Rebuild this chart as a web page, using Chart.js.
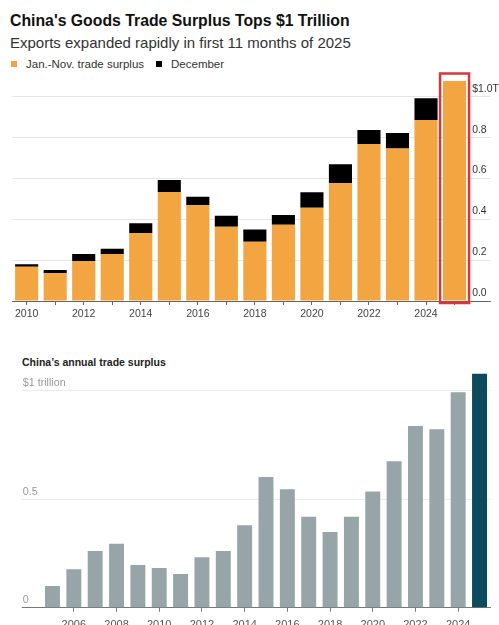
<!DOCTYPE html>
<html><head><meta charset="utf-8">
<script src="https://cdn.jsdelivr.net/npm/chart.js@4.4.1/dist/chart.umd.min.js"></script>
<style>
html,body{margin:0;padding:0;background:#fff;width:499px;height:625px;overflow:hidden;font-family:"Liberation Sans",Arial,sans-serif;}
#wrap{position:relative;width:499px;height:625px;overflow:hidden;}
.t{position:absolute;white-space:nowrap;}
#title{left:10px;top:11px;font-weight:bold;font-size:15.8px;line-height:19px;color:#111;}
#sub{left:10px;top:34px;font-size:15px;line-height:18px;color:#333;}
#leg{left:11px;top:56.7px;font-size:11.5px;line-height:14px;color:#333;}
#leg .sw{display:inline-block;width:6px;height:6px;vertical-align:1px;margin-right:9px;}
#title2{left:22px;top:356px;font-weight:bold;font-size:10.5px;line-height:13px;color:#222;}
#c1{position:absolute;left:0;top:0;}
#c2{position:absolute;left:0;top:340px;}
</style>
</head><body>
<div id="wrap">
  <div class="t" id="title">China's Goods Trade Surplus Tops $1 Trillion</div>
  <div class="t" id="sub">Exports expanded rapidly in first 11 months of 2025</div>
  <div class="t" id="leg"><span class="sw" style="background:#F2A541"></span>Jan.-Nov. trade surplus<span class="sw" style="background:#000;margin-left:12px"></span>December</div>
  <canvas id="c1" width="499" height="330"></canvas>
  <div class="t" id="title2">China’s annual trade surplus</div>
  <canvas id="c2" width="499" height="295"></canvas>
</div>
<script>
// ---- Top chart data ----
const years = ['2010','2011','2012','2013','2014','2015','2016','2017','2018','2019','2020','2021','2022','2023','2024','2025'];
const janNovSurplus = [0.168,0.136,0.196,0.230,0.332,0.534,0.469,0.364,0.291,0.374,0.457,0.577,0.770,0.748,0.887,1.078];
const decemberSurplus = [0.012,0.016,0.034,0.026,0.049,0.059,0.042,0.054,0.059,0.048,0.076,0.093,0.068,0.076,0.107,null];
const topTickValues = [0,0.2,0.4,0.6,0.8,1.0];
const topTickLabels = ['0.0','0.2','0.4','0.6','0.8','$1.0T'];
const highlightYear = '2025';

// ---- Bottom chart data ----
const annualYears = ['2005','2006','2007','2008','2009','2010','2011','2012','2013','2014','2015','2016','2017','2018','2019','2020','2021','2022','2023','2024','2025'];
const annualSurplus = [0.100,0.177,0.261,0.295,0.197,0.183,0.155,0.232,0.261,0.380,0.602,0.546,0.419,0.349,0.419,0.535,0.675,0.837,0.822,0.993,1.078];
const bottomTickValues = [0,0.5,1.0];
const bottomTickLabels = ['0','0.5','$1 trillion'];

const FONT = '"Liberation Sans", Arial, sans-serif';
const ORANGE = '#F2A541', BLACK = '#000000', RED = '#D8363C';
const GRAY = '#97A5A9', TEAL = '#0C4B5E';

const redBox = {
  id:'redBox',
  afterDatasetsDraw(chart){
    const xs = chart.scales.x, ca = chart.chartArea, ctx = chart.ctx;
    const cx = xs.getPixelForValue(years.indexOf(highlightYear));
    ctx.save();
    ctx.strokeStyle = RED; ctx.lineWidth = 2.5;
    ctx.strokeRect(cx - 14.5, ca.top + 1, 29, ca.bottom - ca.top + 1);
    ctx.restore();
  }
};

new Chart(document.getElementById('c1'), {
  type:'bar',
  data:{labels:years, datasets:[
    {label:'Jan.-Nov. trade surplus', data:janNovSurplus, backgroundColor:ORANGE, borderWidth:0, categoryPercentage:1, barPercentage:0.81},
    {label:'December', data:decemberSurplus, backgroundColor:BLACK, borderWidth:0, categoryPercentage:1, barPercentage:0.81}
  ]},
  options:{
    responsive:false, animation:false, devicePixelRatio:1,
    layout:{padding:{left:12.4,right:0,top:72.5,bottom:0}},
    plugins:{legend:{display:false}, tooltip:{enabled:false}},
    scales:{
      x:{stacked:true, offset:true,
        afterFit:s=>{ s.height = 29; },
        grid:{drawOnChartArea:false, offset:false, drawTicks:true, tickLength:4, tickColor:'#666'},
        border:{display:true, color:'#666', width:1},
        ticks:{autoSkip:false, maxRotation:0, padding:2.7, color:'#444', font:{size:10.5, family:FONT},
          callback:(v,i)=> (parseInt(years[i])%2===0 ? years[i] : '')}
      },
      y:{stacked:true, position:'right', min:0, max:1.12,
        afterBuildTicks:s=>{ s.ticks = topTickValues.map(v=>({value:v})); },
        afterFit:s=>{ s.width = 30.2; },
        grid:{color:c=> (c.tick && c.tick.value===0 ? '#666' : '#E6E6E6'),
              tickColor:c=> (c.tick && c.tick.value===0 ? '#666' : '#E6E6E6'),
              tickLength:22, drawTicks:true},
        border:{display:false},
        ticks:{padding:-18.6, labelOffset:-8, color:'#333', font:{size:10.4, family:FONT},
          callback:(v,i)=> topTickLabels[i]}
      }
    }
  },
  plugins:[redBox]
});

new Chart(document.getElementById('c2'), {
  type:'bar',
  data:{labels:annualYears, datasets:[
    {label:'Annual trade surplus', data:annualSurplus,
     backgroundColor: annualYears.map(y=> y===highlightYear ? TEAL : GRAY),
     borderWidth:0, categoryPercentage:1, barPercentage:0.70}
  ]},
  options:{
    responsive:false, animation:false, devicePixelRatio:1,
    layout:{padding:{left:21.8,right:8.8,top:29,bottom:0}},
    plugins:{legend:{display:false}, tooltip:{enabled:false}},
    scales:{
      x:{offset:true,
        afterFit:s=>{ s.height = 27.3; },
        grid:{drawOnChartArea:false, offset:false, drawTicks:true, tickLength:4,
              tickColor:c=> (parseInt(annualYears[c.index])%2===0 ? '#777' : 'rgba(0,0,0,0)')},
        border:{display:true, color:'#777', width:1},
        ticks:{autoSkip:false, maxRotation:0, padding:6.5, color:'#555', font:{size:11, family:FONT},
          callback:(v,i)=> (parseInt(annualYears[i])%2===0 ? annualYears[i] : '')}
      },
      y:{position:'left', min:0, max:1.1,
        afterBuildTicks:s=>{ s.ticks = bottomTickValues.map(v=>({value:v})); },
        afterFit:s=>{ s.width = 20; },
        grid:{color:c=> (c.tick && c.tick.value===0 ? '#777' : '#EBEBEB'),
              tickColor:c=> (c.tick && c.tick.value===0 ? '#777' : '#EBEBEB'),
              tickLength:20, drawTicks:true},
        border:{display:false},
        ticks:{mirror:true, padding:-19, labelOffset:-7.5, color:'#999', font:{size:10.7, family:FONT},
          callback:(v,i)=> bottomTickLabels[i]}
      }
    }
  }
});
</script>
</body></html>
